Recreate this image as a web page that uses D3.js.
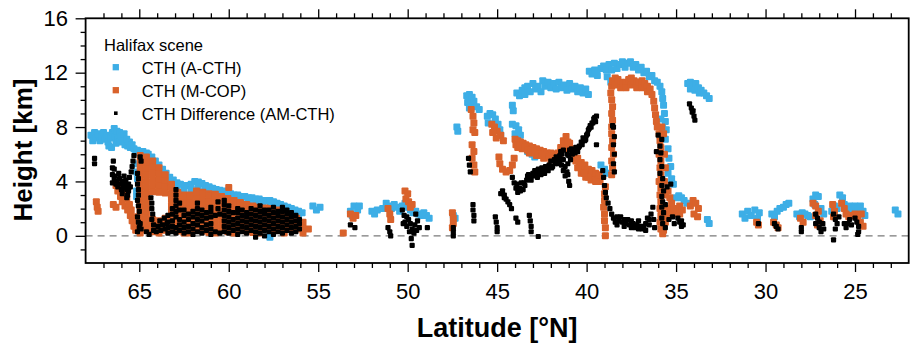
<!DOCTYPE html>
<html>
<head>
<meta charset="utf-8">
<script src="https://cdn.jsdelivr.net/npm/d3@7"></script>
<style>
  html, body { margin: 0; padding: 0; background: #fff; }
  svg { display: block; font-family: "Liberation Sans", Arial, Helvetica, sans-serif; }
</style>
</head>
<body>
<svg id="chart" width="910" height="347"></svg>
<script>
// ---- Axis ticks and labels ----
const latTicks = [65, 60, 55, 50, 45, 40, 35, 30, 25];
const heightTicks = [0, 4, 8, 12, 16];
const sceneName = "Halifax scene";
const seriesNames = ["CTH (A-CTH)", "CTH (M-COP)", "CTH Difference (AM-CTH)"];
const xTitle = "Latitude [°N]";
const yTitle = "Height [km]";

// ---- Retrievals along the track: each entry is [latitude, height, height, ...] (km) ----
const cthA = [
  [67.7,7.4],[67.6,7.0],[67.5,7.6],[67.4,7.2],[67.3,7.5],[67.2,7.0],[67.1,7.3],[67.0,7.6],[66.9,7.1],[66.8,7.4],
  [66.75,6.9],[66.7,6.6],[66.6,7.2],[66.55,6.5],[66.5,7.6],[66.4,7.9],[66.35,7.3],[66.3,6.8],[66.25,7.7],[66.2,7.2],
  [66.1,7.6,6.9],[66.0,7.3],[65.9,7.0],[65.85,7.5],[65.8,6.7],[65.7,7.1],[65.65,6.6],[65.55,6.9],[65.5,6.5],[65.4,6.7],
  [65.3,6.4],[65.2,6.2,5.3],[65.15,4.7,3.3,2.9],[65.1,6.3,4.2],[65.0,6.1],[64.9,5.9],[64.8,6.2],[64.7,6.0],[64.6,6.1],
  [64.5,6.0,5.6],[64.3,5.8,5.3],[64.1,5.5,5.0],[63.9,5.2,4.8],[63.7,4.9,4.5],[63.5,4.6,4.2],[63.3,4.3,3.9],[63.1,4.1,3.7],
  [62.9,3.9,3.5],[62.7,3.8],[62.5,3.7,3.3],[62.3,3.7],[62.1,3.8,3.4],[61.9,4.0],[61.7,3.95,3.55],[61.5,3.85],[61.3,3.7,3.3],
  [61.1,3.6],[60.9,3.5,3.1],[60.7,3.4],[60.5,3.35,2.95],[60.3,3.3],[60.1,3.2,2.8],[59.9,3.1],[59.7,3.0,2.7],[59.5,3.0],
  [59.3,2.9,2.6],[59.1,2.9],[58.9,2.8,2.5],[58.7,2.8],[58.5,2.7,2.3],[58.3,2.7],[58.1,2.6,2.2],[57.9,2.6],[57.7,2.6,2.2,-0.1],
  [57.5,2.5],[57.3,2.4,2.0],[57.1,2.3],[56.9,2.2,1.8],[56.7,2.1],[56.5,2.0,1.6],[56.3,1.9],[56.1,1.8,1.4],[55.9,1.7],
  [55.3,2.2],[55.1,1.9],[54.9,2.1],[53.2,1.8],[53.1,1.5],[53.0,2.2],[52.8,1.9],[52.7,2.2],[52.0,1.8],[51.85,1.6],[51.7,1.9],
  [51.4,2.0],[51.2,2.4],[51.05,2.2],[50.9,2.0],[50.75,2.3],[50.6,2.1],[50.45,1.8],[50.3,2.2],[50.15,2.4],[50.0,2.1],
  [49.85,1.9],[49.7,1.7],[49.55,1.8],[49.4,1.6],[49.25,1.5],[49.1,1.7],[48.95,1.5],[48.8,1.3],[47.45,1.5],[47.35,1.3],
  [47.25,8.0],[47.2,7.7],
  [46.7,10.3],[46.65,9.8],[46.55,10.4,9.4],[46.45,9.8],[46.4,10.2],[46.3,9.9],[46.15,9.5],[46.0,9.3],
  [45.55,8.8],[45.5,8.3],[45.4,9.0],[45.25,8.9],[45.1,8.6],[44.95,8.2],[44.85,7.8],[44.8,7.4],
  [44.15,9.6,8.2],[44.1,9.2],[44.0,7.5],[43.95,8.1],[43.8,7.8],[43.7,7.4],
  [43.9,10.5],[43.75,10.3],[43.6,10.7],[43.45,10.9,10.4],[43.3,11.0],[43.15,10.6],[43.0,11.2],[42.85,10.8],[42.7,11.0],
  [42.55,10.6],[42.45,11.4],[42.3,11.0],[42.15,11.3],[42.0,10.9],[41.85,11.2],[41.7,10.8],[41.55,11.3],[41.4,10.9],
  [41.25,11.1],[41.1,10.7],[40.95,11.2],[40.8,10.8],[40.65,11.0],[40.5,10.6],[40.35,10.9],[40.2,10.5],[40.05,10.8],
  [39.9,10.4],[39.85,12.1],[39.7,11.9],[39.55,12.2],[39.4,11.8],[39.2,12.3],[39.05,12.5],[38.9,12.2],[38.85,11.7],
  [38.75,12.6],[38.65,11.3],[38.6,12.2],[38.45,12.7],[38.3,12.3],[38.15,12.6],[38.0,12.8],[37.85,12.4],[37.7,12.7],
  [37.55,12.8],[37.4,12.4],[37.25,12.6],[37.1,12.2],[36.95,12.4],[36.8,12.0],[36.65,12.1],[36.5,11.7],[36.35,11.8],
  [36.2,11.4],[36.05,11.3],[35.9,11.0],[35.8,10.6],[35.75,10.1],[35.7,9.6],[35.65,9.0],[35.6,8.4],[35.55,7.8],
  [43.3,6.2],[43.05,6.0],[42.9,5.8],[39.2,5.2],[39.0,4.9],[38.9,4.6],
  [35.85,8.6],[35.75,7.9],[35.6,7.1],[35.45,6.4,4.6],[35.4,5.7],[35.3,5.1],[35.25,4.2],[35.15,3.8],[35.0,2.8],
  [34.85,2.95],[34.7,2.8],[34.55,2.6],[34.4,2.4],
  [34.35,11.2],[34.2,11.3,10.8],[34.05,11.1],[33.95,10.7],[33.9,11.2],[33.75,10.9],[33.7,10.5],[33.6,10.7],[33.45,10.5],
  [33.3,10.3],[33.15,10.1],[33.25,1.2],[33.15,0.9],
  [31.3,1.6],[31.15,1.3],[31.0,1.8],[30.8,1.5],[30.6,1.9],[30.45,1.3],[30.35,1.7],[29.65,1.6],[29.5,1.4],[29.35,1.8],
  [29.2,2.0],[29.0,2.1],[28.85,2.3],[28.7,2.4],[28.25,1.6],[28.1,1.4],[27.95,1.7],[27.8,1.6],[27.65,1.5],[27.5,1.4],
  [27.35,2.7],[27.25,2.3],[27.2,3.0],[27.05,2.9],[26.9,2.0],[26.75,1.6],[26.3,1.8],[26.15,2.2],[26.0,2.0],[25.85,3.0],
  [25.7,2.8],[25.6,2.3],[25.45,2.0],[25.3,2.2],[25.15,1.9],[25.0,2.2],[24.85,2.0],[24.7,2.2],[24.55,1.8],[24.45,1.5],
  [22.75,1.9],[22.6,1.6]
];

const cthM = [
  [67.4,2.5],[67.35,2.1],[67.3,1.8],[66.45,2.3],[66.3,2.1,3.7],[66.2,3.3],[66.15,3.9],[66.05,2.9],[66.0,3.5],[65.95,2.5],
  [65.85,3.1],[65.8,2.2],[65.7,2.7],[65.65,1.9],[65.55,2.3],[65.5,1.5],[65.45,1.9],[65.4,1.1],[65.3,0.7],[65.25,1.4],
  [65.2,0.4],[65.15,1.0],
  [64.95,5.9,5.45,5.0,4.55,4.1,3.65,3.2,2.75,2.3,1.85,1.4,0.95,0.5,0.2],
  [64.6,5.8,5.35,4.9,4.45,4.0,3.55,3.1,2.65,2.2,1.75,1.3,0.85,0.4],
  [64.25,5.5,5.05,4.6,4.15,3.7,3.25,1.2,0.75,0.3],
  [63.9,5.0,4.55,4.1,3.65,3.2,1.1,0.65,0.2],
  [63.55,4.5,4.05,3.6,3.15,1.3,0.85,0.4],
  [63.2,3.8,3.55,3.1,2.65,2.2,1.75,1.3,0.85,0.4],
  [62.85,3.2,3.05,2.6,2.15,1.7,1.25,0.8,0.35],
  [62.5,3.0,2.85,2.4,1.95,1.5,1.05,0.6,0.2],
  [62.15,3.0,2.85,2.4,1.95,1.5,1.05,0.6,0.2],
  [61.8,3.3,3.15,2.7,2.25,1.8,1.35,0.9,0.45],
  [61.45,3.2,3.05,2.6,2.15,1.7,1.25,0.8,0.35],
  [61.1,3.1,2.95,2.5,2.05,1.6,1.15,0.7,0.25],
  [60.75,3.05,2.9,2.45,2.0,1.55,1.1,0.65,0.2],
  [60.4,2.9,2.75,2.3,1.85,1.4,0.95,0.5],
  [60.0,3.55],
  [60.05,2.75,2.55,2.1,1.65,1.2,0.75,0.3],
  [59.7,2.6,2.45,2.0,1.55,1.1,0.65,0.2],
  [59.35,2.45,2.3,1.85,1.4,0.95,0.5],
  [59.0,2.3,2.15,1.7,1.25,0.8,0.35],
  [58.65,2.2,2.05,1.6,1.15,0.7,0.25],
  [58.3,2.1,1.95,1.5,1.05,0.6,0.2],
  [57.95,2.05,1.9,1.45,1.0,0.55],
  [57.6,2.0,1.85,1.4,0.95,0.5],
  [57.25,1.9,1.75,1.3,0.85,0.4],
  [56.9,1.75,1.55,1.1,0.65,0.2],
  [56.55,1.6,1.4,0.95,0.5],
  [56.2,1.3,0.95,0.5],
  [55.85,1.0,0.55,0.2],
  [55.55,0.5],
  [53.6,0.2],[53.2,1.6],[53.05,1.3],[52.9,1.5],
  [51.1,2.0],[51.0,1.6],[50.95,1.2],[50.15,3.3],[50.0,3.1],[50.1,2.7],[49.95,2.5],[49.85,2.1],[49.75,2.3],
  [47.5,1.7,0.6],[47.45,1.3,0.9],
  [46.45,9.3],[46.35,8.8,7.8],[46.3,8.3],[46.25,7.6],
  [46.4,6.7,5.7],[46.3,6.2,5.2],[46.25,4.7],
  [45.3,8.2],[45.15,8.0],[45.0,7.7],[44.8,7.4],[45.25,7.6],[45.05,7.2],[44.65,7.0],
  [44.9,5.8],[44.85,5.3],[44.7,4.9],[44.5,4.7],[44.3,4.8],[44.15,5.2],[44.05,5.7],
  [44.0,7.1],[43.85,7.0,6.5],[43.7,6.9],[43.55,6.8],[43.4,6.7],[43.2,6.6],[43.0,6.5],[42.8,6.4],[42.6,6.3],[42.4,6.2],
  [42.2,6.1],[42.0,6.1],[41.8,6.0],[41.6,6.1],[41.45,6.5],[41.3,7.0],[41.15,7.3],[40.95,6.8],[41.0,6.2],[40.8,5.8],
  [40.6,5.5],[40.4,5.2],[40.2,5.0],[40.0,4.8],[39.8,4.6],[39.6,4.4],[39.4,4.2],[39.25,4.0],[40.3,4.6],[40.05,4.3],
  [39.75,4.1],[43.6,6.4],[43.2,6.1],[42.8,5.9],[42.4,5.7],[42.0,5.6],[41.6,5.5],
  [43.95,6.7],[43.75,6.6],[43.45,6.5],[43.3,6.3],[43.1,6.2],[42.9,6.1],[42.7,6.0],[42.5,5.9],[42.3,5.9],[42.1,5.8],
  [41.9,5.7],[41.7,5.7],[41.5,5.8],[41.2,6.6],[41.05,6.9],[40.9,6.4],[40.7,5.9],[40.5,5.7,5.0],[40.3,5.4],[40.1,5.2],
  [39.9,4.9,4.3],[39.7,4.8],[39.5,4.6,4.0],[39.3,4.5],[40.15,4.6],
  [38.6,11.0,10.0,9.0,8.0,7.5,6.5,5.5,4.5],[38.65,10.5],[38.55,9.5,8.5,7.0,5.0],[38.5,6.0],
  [38.95,3.6,0.6,0.0],[39.0,3.1,2.6,1.6,1.1],[39.05,2.1],
  [38.55,11.4],[38.4,11.6,11.1],[38.25,11.5],[38.1,11.3,10.9],[37.95,11.2],[37.8,11.3,10.9],[37.65,11.5],[37.5,11.6,11.1],
  [37.35,11.4],[37.2,11.3,10.9],[37.05,11.3],[36.9,11.4,10.9],[36.75,11.2],[36.6,11.0,10.6],[36.45,10.8],[36.35,10.4],
  [36.25,9.9],[36.2,9.4],[36.15,8.9],[36.1,8.4],
  [35.8,8.0],[35.7,7.5],
  [36.05,8.0],[35.95,7.5,6.0,4.0],[35.9,7.0,5.0,3.0,2.0,1.0],[35.85,6.5,5.5,4.5,3.5,2.5,1.5,0.5],
  [35.65,6.0,4.0,2.0],[35.6,5.0,3.0,1.0],[35.55,1.5],[35.7,0.4],[35.75,0.15],
  [35.45,3.3,2.0],[35.35,2.8],[35.25,2.4],[35.2,1.6],
  [35.1,2.0],[34.95,1.8],[34.8,1.6,2.2],[34.65,1.9],[34.2,2.2],[34.05,2.6],[33.9,2.4],[33.75,2.0],[34.0,1.6],[33.8,1.4],
  [30.5,1.0],[30.4,0.8],[29.55,1.0],[29.4,0.8],[29.3,0.6],[28.05,1.3],[27.9,1.0],
  [27.35,2.4],[27.2,2.2,1.5],[27.05,1.8],[26.95,1.1],[27.1,0.8],
  [26.25,2.3],[26.15,1.8],[26.2,1.4],[25.75,2.4],[25.6,2.0],[25.5,1.6],[25.35,1.4],[25.2,1.5],[25.0,1.6],[24.85,1.3],
  [24.7,1.0],[24.65,1.6],[24.55,0.7]
];

const cthDiff = [
  [67.5,5.7,5.3],[66.45,5.5],
  [66.5,5.0,4.5,3.9],[66.4,4.9,4.2],[66.35,4.4],[66.3,3.8],[66.25,4.0],[66.2,3.6],[66.15,4.6],[66.1,4.2],[66.05,3.8],
  [66.0,3.4],[65.95,4.0,3.1],[65.9,3.5],[65.85,4.4],[65.8,3.8],[65.75,4.1,3.6],[65.7,3.4,2.8],[65.65,3.0],[65.6,3.8,3.3],
  [65.55,4.3],[65.5,3.6],[65.45,4.7],[65.4,5.1],[65.35,5.5],[65.3,5.9],
  [65.1,4.6,3.8,2.6,1.4,0.3],[65.05,4.2,3.4,3.0,2.2,1.0],[65.0,1.8,0.6],[64.95,5.8,0.9],[64.9,5.5,0.5],
  [64.6,0.3],[64.45,0.1],
  [64.35,2.8],[64.3,2.4,2.0,1.2],[64.25,1.6],[64.2,0.8,0.4],
  [64.05,0.3],[63.95,0.7],[63.85,1.1],[63.8,0.4],[63.7,0.8],[63.6,1.3],[63.55,0.5],[63.45,0.9],
  [63.4,0.2,0.6,1.0,1.5],
  [63.15,0.3,0.7,1.1,1.6,2.0],
  [62.95,0.2,0.6,1.4,1.8,2.2,2.6,3.0,3.4],
  [62.75,0.4,0.8,1.2,1.9,2.4],
  [62.5,0.2,0.6,1.0,1.5,1.9],
  [62.25,0.3,0.7,1.2,1.6],
  [62.0,0.1,0.5,0.9,1.4,1.8],
  [61.75,0.3,0.8,1.2,1.6,2.0,2.4],
  [61.5,0.2,0.6,1.1,1.5,1.9],
  [61.25,0.4,0.8,1.3,1.7],
  [61.0,0.1,0.5,0.9,1.4,1.8,2.1],
  [60.75,0.3,1.5],
  [60.6,2.5,2.0],
  [60.5,0.2,1.6],
  [60.25,0.3,0.7,1.1,1.5,1.9,2.3,2.6],
  [60.0,0.2,0.6,1.0,1.4,1.8,2.2],
  [59.75,0.4,0.8,1.2,1.7],
  [59.5,0.1,0.5,0.9,1.3,1.7,2.0],
  [59.25,0.3,0.7,1.1,1.5,1.9],
  [59.0,0.2,0.6,1.0,1.4,1.7],
  [58.75,0.4,0.8,1.2,1.6,2.0],
  [58.5,-0.1,0.3,0.7,1.1,1.5,1.9],
  [58.25,0.2,0.6,1.0,1.4,1.8,2.2],
  [58.0,0.0,0.4,0.8,1.2,1.6,1.9],
  [57.75,0.3,0.7,1.1,1.5,1.9],
  [57.5,0.1,0.5,0.9,1.3,1.7,2.1],
  [57.25,0.3,0.7,1.1,1.5,1.8],
  [57.0,0.2,0.6,1.0,1.4,1.8,2.1],
  [56.75,0.4,0.8,1.2,1.6,1.9],
  [56.5,0.2,0.6,1.0,1.4,1.7],
  [56.25,0.3,0.7,1.1,1.5],
  [56.05,0.5,0.9,1.2],
  [53.2,0.8],[52.95,0.6],
  [51.1,0.6],[51.0,0.3],[50.95,0.0],
  [50.3,1.9],[50.25,0.9],[50.2,1.5],[50.15,1.0],[50.05,0.7,1.4],[49.95,1.2],[49.9,0.3],[49.85,0.9],[49.8,-0.2],
  [49.75,0.5,-0.7],[49.65,0.2],[49.6,0.8],[49.55,1.6],[49.5,0.4],[49.45,1.1],[49.35,0.6],
  [48.9,0.6],[47.45,0.6,0.3,0.0],
  [46.6,5.7],[46.55,5.2],[46.5,4.7],[46.35,2.3,1.9],[46.3,1.5,1.1],
  [45.1,1.4],[45.05,1.0],[45.0,0.6,0.3],
  [44.8,3.1],[44.7,3.3],[44.6,3.0,2.8],[44.5,2.7],[44.4,2.5],[44.3,2.3],[44.2,2.0],
  [43.95,1.3],[43.85,1.0],[43.2,1.5],[43.15,1.1],[43.1,0.7,0.3],[42.7,-0.05],
  [44.15,4.3],[44.05,3.9],[43.95,3.5],[43.85,3.2],[43.75,3.5],[43.65,3.9],[43.55,3.4],[43.45,3.7],[43.35,4.1],
  [43.25,4.5],[43.15,4.3],[43.0,4.6],[42.9,4.8],[42.8,4.6],[42.7,4.9],[42.6,4.7],[42.5,5.0],[42.4,4.8],[42.3,5.1],
  [42.2,4.9],[42.1,5.2],[42.0,5.5],[41.9,5.1],[41.8,5.6],[41.7,5.8],[41.6,5.3],[41.5,5.9,5.5],[41.45,6.2],[41.4,5.2,6.0],
  [41.3,4.8,5.6,6.3],[41.2,4.4,5.1],[41.1,4.7,6.0],[41.05,5.3,4.5],[41.0,5.9,4.0],[40.95,6.3,3.7],[40.9,5.6],[40.8,6.0],
  [40.7,6.3],[40.6,6.5],[40.5,6.2],[40.4,6.6],[40.3,6.9],[40.2,7.2],[40.1,7.0],[40.0,7.4],[39.9,7.8],[39.8,8.1],
  [39.7,8.3],[39.6,8.6],[39.5,8.4],[39.45,8.8,6.7],
  [43.9,3.8],[43.7,3.3],[43.5,3.9],[43.3,4.4],[43.1,4.1],[42.95,4.4],[42.75,4.3],[42.55,4.5],[42.35,4.6],[42.15,4.8],
  [41.95,5.0],[41.75,5.3],[41.55,5.6],[40.85,6.4],[40.65,6.1],[40.45,6.5],[40.25,6.7],[40.05,7.1],[39.95,7.5],
  [39.85,7.9],[39.75,8.0],[39.65,8.3],[39.55,8.7],
  [38.55,8.1],[38.5,8.0,6.7,5.3],[38.45,7.3,6.0,4.7],
  [39.1,4.8],[39.05,4.3],[39.0,3.7],[38.95,3.2],[38.9,2.8],[38.8,2.4],[38.7,2.0],[38.6,1.6],[38.5,1.3],[38.4,1.0],
  [38.3,0.8,1.4],[38.2,1.1],[38.1,1.4],[38.0,1.0],[37.9,0.7,1.2],[37.8,0.9],[37.7,1.2],[37.6,0.8],[37.5,0.6,1.1],
  [37.4,0.9],[37.3,0.6],[37.2,0.8],[37.1,1.1,0.5],[37.0,0.7],[36.9,0.5],[36.8,0.7],[36.7,0.9,0.4],[36.6,1.3],
  [36.5,0.8,1.2],[36.4,1.6],[36.3,2.1],[36.25,1.2],[36.2,0.6],
  [36.1,6.2],[36.0,7.4],[35.9,6.6,5.6,4.6],[35.85,6.1],[35.8,7.1,5.1,3.7,2.9,2.1,1.3],[35.75,4.2,2.5,0.9],
  [35.7,3.3,1.7],[35.6,0.6,2.3],[35.5,3.6],[35.4,1.2],[35.3,3.8],[35.2,1.4],[35.1,0.9],
  [34.9,1.3],[34.8,1.0],[34.7,0.7,1.1],[34.6,0.8],
  [34.25,9.7],[34.15,9.4],[34.1,9.1],[34.05,9.2],[34.0,8.8],[33.95,8.5],
  [30.4,0.9],[29.5,0.9],[29.4,0.7],[29.3,0.5],[28.0,0.6,0.3],
  [27.2,1.6,0.9],[27.1,1.3],[27.0,1.0,0.6],[26.9,0.3],[26.8,0.9],[26.75,0.5],
  [26.2,1.6,-0.3],[26.1,1.2,0.5],[26.0,0.9],[25.9,1.4],[25.6,0.9],[25.5,0.6],[25.4,0.9],[25.3,1.2],[25.2,0.8],
  [25.0,1.3],[24.9,1.0],[24.8,0.7,0.3],[24.85,0.1]
];

// ---- Layout ----
const svg = d3.select("#chart");
const plot = { left: 85.6, right: 908.7, top: 18.3, bottom: 263 };
const x = d3.scaleLinear().domain([68, 22]).range([plot.left, plot.right]);
const y = d3.scaleLinear().domain([-2, 16]).range([plot.bottom, plot.top]);

const toPoints = cols => cols.flatMap(c => c.slice(1).map(h => ({ lat: c[0], h })));

const series = [
  { name: seriesNames[0], pts: toPoints(cthA), color: "#3daee6", size: 7, legendSize: 6.3 },
  { name: seriesNames[1], pts: toPoints(cthM), color: "#d9622b", size: 7, legendSize: 6.3 },
  { name: seriesNames[2], pts: toPoints(cthDiff), color: "#000000", size: 5.2, legendSize: 3.6 }
];

svg.append("defs").append("clipPath").attr("id", "plotClip")
  .append("rect")
  .attr("x", plot.left).attr("y", plot.top)
  .attr("width", plot.right - plot.left).attr("height", plot.bottom - plot.top);

// zero reference line
svg.append("line")
  .attr("x1", plot.left).attr("x2", plot.right)
  .attr("y1", y(0)).attr("y2", y(0))
  .attr("stroke", "#7a7a7a").attr("stroke-width", 1.2)
  .attr("stroke-dasharray", "7,5");

// markers
const marks = svg.append("g").attr("clip-path", "url(#plotClip)");
series.forEach(s => {
  marks.append("g").selectAll("rect").data(s.pts).join("rect")
    .attr("x", d => x(d.lat) - s.size / 2)
    .attr("y", d => y(d.h) - s.size / 2)
    .attr("width", s.size).attr("height", s.size)
    .attr("rx", 1).attr("ry", 1)
    .attr("fill", s.color);
});

// ---- Axes ----
const minorLat = d3.range(23, 68).filter(v => v % 5 !== 0);
const minorH = d3.range(-1, 16).filter(v => v % 4 !== 0);

function styleAxis(g) {
  g.select(".domain").remove();
  g.selectAll(".tick line").attr("stroke", "#000").attr("stroke-width", 1.3);
  g.selectAll(".tick text").attr("fill", "#000").style("font-size", "22px")
    .style("font-family", '"Liberation Sans", Arial, Helvetica, sans-serif');
}

svg.append("g").attr("transform", `translate(0,${plot.bottom})`)
  .call(d3.axisBottom(x).tickValues(latTicks).tickSize(9).tickPadding(11).tickFormat(d3.format("d")))
  .call(styleAxis);
svg.append("g").attr("transform", `translate(0,${plot.bottom})`)
  .call(d3.axisBottom(x).tickValues(minorLat).tickSize(5).tickFormat(""))
  .call(styleAxis);
svg.append("g").attr("transform", `translate(0,${plot.top})`)
  .call(d3.axisTop(x).tickValues(latTicks).tickSize(9).tickFormat(""))
  .call(styleAxis);
svg.append("g").attr("transform", `translate(0,${plot.top})`)
  .call(d3.axisTop(x).tickValues(minorLat).tickSize(5).tickFormat(""))
  .call(styleAxis);
svg.append("g").attr("transform", `translate(${plot.left},0)`)
  .call(d3.axisLeft(y).tickValues(heightTicks).tickSize(10).tickPadding(7.6).tickFormat(d3.format("d")))
  .call(styleAxis);
svg.append("g").attr("transform", `translate(${plot.left},0)`)
  .call(d3.axisLeft(y).tickValues(minorH).tickSize(5).tickFormat(""))
  .call(styleAxis);

// frame
svg.append("rect")
  .attr("x", plot.left).attr("y", plot.top)
  .attr("width", plot.right - plot.left).attr("height", plot.bottom - plot.top)
  .attr("fill", "none").attr("stroke", "#000").attr("stroke-width", 1.8);

// axis titles
svg.append("text")
  .attr("x", (plot.left + plot.right) / 2).attr("y", 337)
  .attr("text-anchor", "middle")
  .style("font-size", "27px").style("font-weight", "bold")
  .text(xTitle);
svg.append("text")
  .attr("transform", "translate(32,150) rotate(-90)")
  .attr("text-anchor", "middle")
  .style("font-size", "26px").style("font-weight", "bold")
  .text(yTitle);

// ---- Legend ----
const legend = svg.append("g");
legend.append("text").attr("x", 104).attr("y", 50.5)
  .style("font-size", "16.5px").text(sceneName);
const rowsY = [73.5, 96.5, 119.5];
series.forEach((s, i) => {
  const ls = s.legendSize;
  legend.append("rect")
    .attr("x", 115.8 - ls / 2).attr("y", rowsY[i] - 6.3 - ls / 2)
    .attr("width", ls).attr("height", ls).attr("fill", s.color);
  legend.append("text").attr("x", 141.7).attr("y", rowsY[i])
    .style("font-size", "16.5px").text(s.name);
});
</script>
</body>
</html>
